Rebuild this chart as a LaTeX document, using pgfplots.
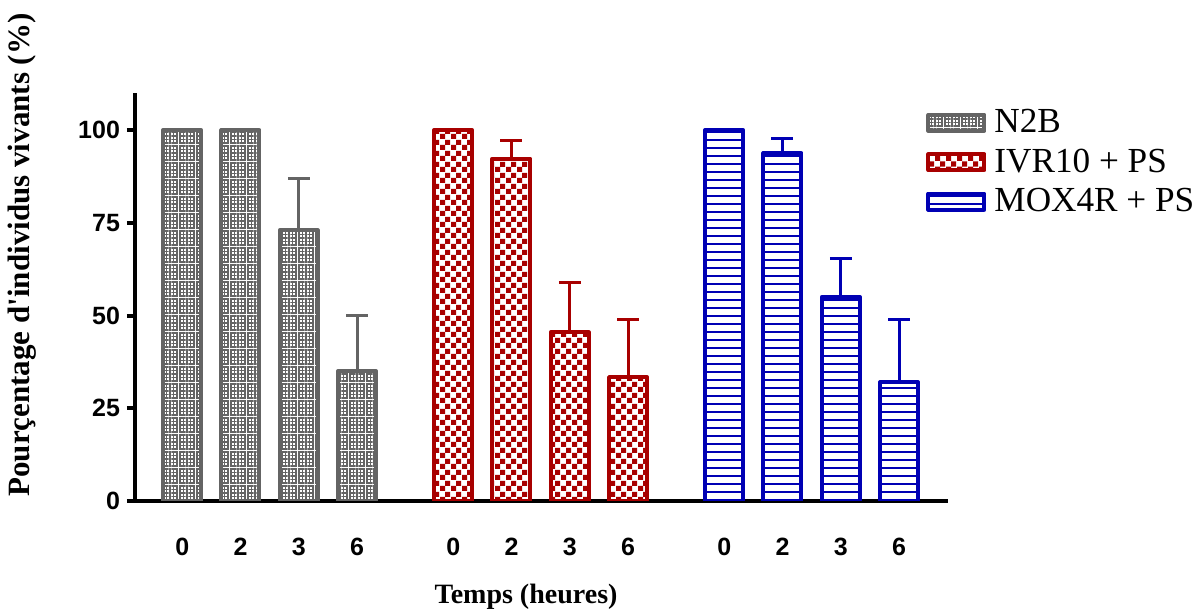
\documentclass[border=0pt]{standalone}
\usepackage{fontspec}
\setmainfont{Liberation Serif}
\newfontfamily\arial{Liberation Sans}
\usepackage{pgfplots}
\pgfplotsset{compat=1.18}
\usetikzlibrary{patterns,patterns.meta}
\definecolor{cgray}{RGB}{100,100,100}
\definecolor{cred}{RGB}{168,0,0}
\definecolor{cblue}{RGB}{0,0,180}
\pgfdeclarepatternformonly{mychecker}{\pgfpointorigin}{\pgfqpoint{5.5bp}{5.5bp}}{\pgfqpoint{5.5bp}{5.5bp}}{%
  \pgfpathrectangle{\pgfpointorigin}{\pgfqpoint{2.75bp}{2.75bp}}%
  \pgfpathrectangle{\pgfqpoint{2.75bp}{2.75bp}}{\pgfqpoint{2.75bp}{2.75bp}}%
  \pgfusepath{fill}}
\begin{document}
\begin{tikzpicture}
\useasboundingbox (-67.5bp,-55.5bp) rectangle (533bp,250.5bp);
\begin{axis}[
  scale only axis, width=406.5bp, height=204bp,
  anchor=south west, at={(0,0)},
  xmin=-0.81, xmax=13.14, ymin=0, ymax=110,
  axis x line*=bottom, axis y line*=left,
  axis line style={line width=2bp, black, -},
  ybar, bar shift=0pt, bar width=19bp,
  xtick={0,1,2,3,4.65,5.65,6.65,7.65,9.3,10.3,11.3,12.3},
  xticklabels={0,2,3,6,0,2,3,6,0,2,3,6},
  ytick={0,25,50,75,100},
  tick align=outside, major tick length=4bp,
  ytick style={line width=2bp, black},
  xtick style={draw=none},
  /pgf/number format/assume math mode=true,
  ticklabel style={font=\arial\bfseries\fontsize{12.5bp}{14bp}\selectfont},
  x tick label style={yshift=-11bp},
  xlabel={\bfseries Temps (heures)},
  xlabel style={font=\fontsize{14bp}{16bp}\selectfont, at={(rel axis cs:0.481,0)}, anchor=center, yshift=-48bp},
  ylabel={\bfseries Pourçentage d\textquotesingle individus vivants (\%)},
  ylabel style={font=\fontsize{15.5bp}{17bp}\selectfont, at={([xshift=-56.5bp]rel axis cs:0,0.603)}, anchor=center},
  legend style={draw=none, fill=none, at={(rel axis cs:0.973,0.965)}, anchor=north west,
    font=\fontsize{17.6bp}{19bp}\selectfont, inner sep=0pt, row sep=4.5bp,
    nodes={inner sep=1bp}},
  legend cell align=left,
  legend image code/.code={\draw[#1, line width=2bp] (0bp,-4bp) rectangle (28bp,4bp);},
  error bars/y dir=plus, error bars/y explicit,
]
\addplot[draw=cgray, line width=2bp, line join=round, pattern={Hatch[angle=0,distance=1.7bp,line width=0.75bp]}, pattern color=cgray,
  error bars/error bar style={line width=1.5bp, color=cgray},
  error bars/error mark options={rotate=90, line width=1.5bp, mark size=5.5bp, color=cgray}]
  coordinates {(0,100) +- (0,0) (1,100) +- (0,0) (2,73) +- (0,14) (3,35) +- (0,15)};
\addlegendentry{\hspace{3bp}N2B}
\addplot[draw=cred, line width=2bp, line join=round, pattern=mychecker, pattern color=cred,
  error bars/error bar style={line width=1.5bp, color=cred},
  error bars/error mark options={rotate=90, line width=1.5bp, mark size=5.5bp, color=cred}]
  coordinates {(4.65,100) +- (0,0) (5.65,92.3) +- (0,5) (6.65,45.5) +- (0,13.3) (7.65,33.4) +- (0,15.6)};
\addlegendentry{\hspace{3bp}IVR10 + PS}
\addplot[draw=cblue, line width=2bp, line join=round, pattern={Lines[angle=0,distance=4bp,line width=1.2bp]}, pattern color=cblue,
  error bars/error bar style={line width=1.5bp, color=cblue},
  error bars/error mark options={rotate=90, line width=1.5bp, mark size=5.5bp, color=cblue}]
  coordinates {(9.3,100) +- (0,0) (10.3,93.8) +- (0,4) (11.3,55) +- (0,10.5) (12.3,32) +- (0,17)};
\addlegendentry{\hspace{3bp}MOX4R + PS}
\end{axis}
\end{tikzpicture}
\end{document}
